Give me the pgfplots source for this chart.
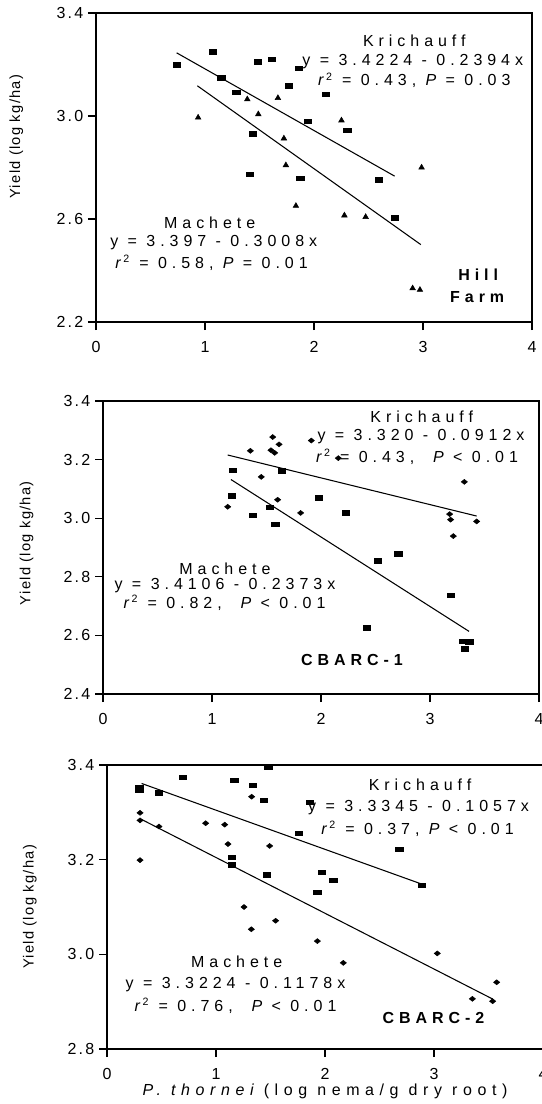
\documentclass[border=0pt]{standalone}
\usepackage{fontspec}
\setmainfont{Liberation Sans}
\newfontfamily\spfont[LetterSpace=31]{Liberation Sans}
\newfontfamily\xlfont[LetterSpace=35]{Liberation Sans}
\newfontfamily\tkfont[LetterSpace=14]{Liberation Sans}
\newfontfamily\ylfont[LetterSpace=9]{Liberation Sans}
\usepackage{pgfplots}
\pgfplotsset{compat=1.18}

% 1 px of the reference = 0.75pt
\newcommand{\rsq}{{\itshape r}\,\textsuperscript{2}}
\pgfplotsset{
  /pgf/number format/assume math mode=true,
  panel/.style={
    scale only axis, width=327pt, anchor=south west,
    xmin=0, xmax=4, xtick={0,1,2,3,4},
    xtick pos=bottom, ytick pos=left,
    axis line style={line width=1.1pt},
    tick style={black, line width=0.8pt},
    tick align=outside, major tick length=6pt,
    ticklabel style={font=\tkfont\fontsize{12}{14}\selectfont},
    yticklabel style={/pgf/number format/fixed, /pgf/number format/fixed zerofill,
      /pgf/number format/precision=1},
    xticklabel style={yshift=-5pt},
    ylabel={Yield (log kg/ha)},
    ylabel style={font=\ylfont\fontsize{11}{13}\selectfont, anchor=center},
    clip=false,
  },
  sq/.style={only marks, mark=square*, mark size=2.2pt,
    mark options={xscale=1.25, yscale=0.75, fill=black, draw=black}},
  tri/.style={only marks, mark=triangle*, mark size=2.4pt,
    mark options={fill=black, draw=black}},
  dia/.style={only marks, mark=diamond*, mark size=2.2pt,
    mark options={xscale=1.4, yscale=0.85, fill=black, draw=black}},
  fit/.style={black, line width=0.8pt, no marks},
}
\tikzset{
  ann/.style={font=\spfont\fontsize{12}{14}\selectfont, anchor=center, inner sep=0pt},
  bann/.style={font=\spfont\bfseries\fontsize{12}{14}\selectfont, anchor=center, inner sep=0pt},
}

\begin{document}
\begin{tikzpicture}
\useasboundingbox (0,0) rectangle (406.5pt,-828pt);

% ---- Hill Farm ----
\begin{axis}[panel, at={(72pt,-241.5pt)}, height=231.75pt,
  ymin=2.2, ymax=3.4, ytick={2.2,2.6,3.0,3.4},
  ylabel style={at={(axis description cs:-0.183,0.6)}}]
\addplot[sq] coordinates {
(0.744,3.199) (1.074,3.249) (1.150,3.149) (1.288,3.093) (1.486,3.210)
(1.614,3.221) (1.767,3.118) (1.858,3.185) (1.944,2.980) (1.437,2.931)
(1.412,2.774) (1.874,2.758) (2.111,3.084) (2.304,2.945) (2.593,2.752)
(2.743,2.605)};
\addplot[tri] coordinates {
(0.937,2.994) (1.388,3.065) (1.669,3.070) (1.489,3.007) (1.724,2.913)
(1.742,2.809) (1.834,2.651) (2.252,2.983) (2.987,2.800) (2.279,2.614)
(2.474,2.608) (2.905,2.331) (2.972,2.325)};
\addplot[fit] coordinates {(0.74,3.2453) (2.74,2.7664)};
\addplot[fit] coordinates {(0.93,3.1173) (2.98,2.5006)};
\node[ann] at (axis cs:2.92,3.291) {Krichauff};
\node[ann] at (axis cs:2.906,3.213) {y = 3.4224 - 0.2394x};
\node[ann] at (axis cs:2.92,3.139) {\rsq\ = 0.43,\ {\itshape P} = 0.03};
\node[ann] at (axis cs:1.043,2.586) {Machete};
\node[ann] at (axis cs:1.08,2.508) {y = 3.397 - 0.3008x};
\node[ann] at (axis cs:1.06,2.430) {\rsq\ = 0.58,\ {\itshape P} = 0.01};
\node[bann] at (axis cs:3.506,2.383) {Hill};
\node[bann] at (axis cs:3.497,2.297) {Farm};
\end{axis}

% ---- CBARC-1 ----
\begin{axis}[panel, at={(77.25pt,-520.5pt)}, height=219.75pt,
  ymin=2.4, ymax=3.4, ytick={2.4,2.6,2.8,3.0,3.2,3.4},
  ylabel style={at={(axis description cs:-0.175,0.515)}}]
\addplot[dia] coordinates {
(1.557,3.277) (1.615,3.252) (1.352,3.230) (1.541,3.232) (1.575,3.223)
(1.911,3.265) (1.452,3.141) (1.602,3.063) (1.144,3.039) (1.813,3.018)
(2.159,3.205) (3.315,3.124) (3.180,3.014) (3.189,2.995) (3.428,2.989)
(3.214,2.939)};
\addplot[sq] coordinates {
(1.190,3.163) (1.639,3.162) (1.180,3.076) (1.532,3.038) (1.376,3.011)
(1.581,2.980) (1.979,3.070) (2.226,3.018) (2.523,2.855) (2.709,2.878)
(3.190,2.736) (2.419,2.626) (3.306,2.581) (3.361,2.578) (3.321,2.554)};
\addplot[fit] coordinates {(1.144,3.2157) (3.428,3.0074)};
\addplot[fit] coordinates {(1.174,3.1320) (3.358,2.6138)};
\node[ann] at (axis cs:2.924,3.345) {Krichauff};
\node[ann] at (axis cs:2.917,3.277) {y = 3.320 - 0.0912x};
\node[ann] at (axis cs:2.881,3.209) {\rsq\ = 0.43,\ \ {\itshape P} < 0.01};
\node[ann] at (axis cs:1.119,2.827) {Machete};
\node[ann] at (axis cs:1.119,2.770) {y = 3.4106 - 0.2373x};
\node[ann] at (axis cs:1.115,2.711) {\rsq\ = 0.82,\ \ {\itshape P} < 0.01};
\node[bann] at (axis cs:2.284,2.516) {CBARC-1};
\end{axis}

% ---- CBARC-2 ----
\begin{axis}[panel, at={(80.25pt,-786.75pt)}, height=213pt,
  ymin=2.8, ymax=3.4, ytick={2.8,3.0,3.2,3.4},
  ylabel style={at={(axis description cs:-0.177,0.5)}},
  xlabel={{\itshape P. thornei} (log nema/g dry root)},
  xlabel style={font=\xlfont\fontsize{12}{14}\selectfont,
    at={(axis description cs:0.5,-0.148)}, anchor=center}]
\addplot[sq] coordinates {
(0.297,3.353) (0.297,3.347) (0.694,3.374) (0.474,3.341) (1.168,3.368)
(1.339,3.357) (1.480,3.395) (1.440,3.326) (1.862,3.321) (1.758,3.256)
(1.147,3.205) (1.147,3.189) (1.465,3.168) (1.930,3.131) (1.972,3.174)
(2.076,3.156) (2.682,3.222) (2.890,3.146)};
\addplot[dia] coordinates {
(0.303,3.299) (0.303,3.283) (0.303,3.199) (0.477,3.270) (0.905,3.277)
(1.080,3.274) (1.327,3.333) (1.110,3.233) (1.492,3.229) (1.257,3.100)
(1.547,3.071) (1.324,3.053) (1.930,3.028) (2.168,2.982) (3.030,3.002)
(3.575,2.941) (3.352,2.906) (3.538,2.901)};
\addplot[fit] coordinates {(0.318,3.361) (2.893,3.148)};
\addplot[fit] coordinates {(0.303,3.2867) (3.538,2.9056)};
\node[ann] at (axis cs:2.872,3.358) {Krichauff};
\node[ann] at (axis cs:2.858,3.311) {y = 3.3345 - 0.1057x};
\node[ann] at (axis cs:2.849,3.265) {\rsq\ = 0.37,\ {\itshape P} < 0.01};
\node[ann] at (axis cs:1.19,2.984) {Machete};
\node[ann] at (axis cs:1.179,2.937) {y = 3.3224 - 0.1178x};
\node[ann] at (axis cs:1.179,2.891) {\rsq\ = 0.76,\ \ {\itshape P} < 0.01};
\node[bann] at (axis cs:2.995,2.865) {CBARC-2};
\end{axis}
\end{tikzpicture}
\end{document}
